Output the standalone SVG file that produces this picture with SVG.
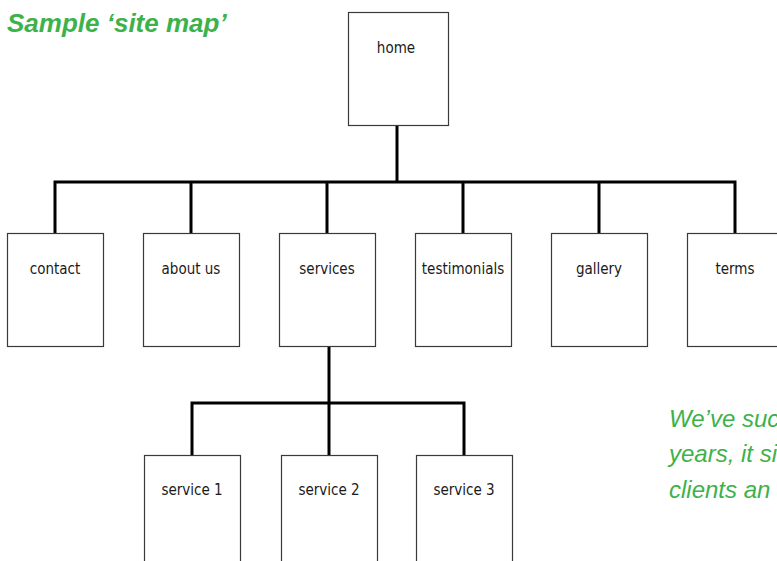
<svg xmlns="http://www.w3.org/2000/svg" width="777" height="561" viewBox="0 0 777 561">
  <style>
    .box { fill: #ffffff; stroke: #3a3a3a; stroke-width: 1.2; }
    .lbl { font-family: "DejaVu Sans Condensed", "Liberation Sans", sans-serif; font-size: 15px; fill: #1a1a1a; text-anchor: middle; }
    .link { fill: none; stroke: #000000; stroke-width: 3; stroke-linejoin: miter; }
    .title { font-family: "Liberation Sans", Arial, sans-serif; font-size: 26px; font-weight: bold; font-style: italic; fill: #3db24a; }
    .note { font-family: "Liberation Sans", Arial, sans-serif; font-size: 24px; font-style: italic; fill: #3db24a; }
  </style>
  <rect width="777" height="561" fill="#ffffff"/>

  <text class="title" x="7" y="32">Sample ‘site map’</text>

  <g id="connectors">
    <path class="link" d="M397 125 V182"/>
    <path class="link" d="M55 233 V182 H735 V233"/>
    <path class="link" d="M191 182 V233 M327 182 V233 M463 182 V233 M599 182 V233"/>
    <path class="link" d="M329 347 V403"/>
    <path class="link" d="M192 455 V403 H464 V455"/>
    <path class="link" d="M329 403 V455"/>
  </g>

  <g id="home"><rect class="box" x="348.5" y="12.5" width="100" height="113"/><text class="lbl" x="396" y="53">home</text></g>

  <g id="contact"><rect class="box" x="7.5" y="233.5" width="96" height="113"/><text class="lbl" x="55" y="274">contact</text></g>
  <g id="about-us"><rect class="box" x="143.5" y="233.5" width="96" height="113"/><text class="lbl" x="191" y="274">about us</text></g>
  <g id="services"><rect class="box" x="279.5" y="233.5" width="96" height="113"/><text class="lbl" x="327" y="274">services</text></g>
  <g id="testimonials"><rect class="box" x="415.5" y="233.5" width="96" height="113"/><text class="lbl" x="463" y="274">testimonials</text></g>
  <g id="gallery"><rect class="box" x="551.5" y="233.5" width="96" height="113"/><text class="lbl" x="599" y="274">gallery</text></g>
  <g id="terms"><rect class="box" x="687.5" y="233.5" width="96" height="113"/><text class="lbl" x="735" y="274">terms</text></g>

  <g id="service-1"><rect class="box" x="144.5" y="455.5" width="96" height="113"/><text class="lbl" x="192" y="495">service 1</text></g>
  <g id="service-2"><rect class="box" x="281.5" y="455.5" width="96" height="113"/><text class="lbl" x="329" y="495">service 2</text></g>
  <g id="service-3"><rect class="box" x="416.5" y="455.5" width="96" height="113"/><text class="lbl" x="464" y="495">service 3</text></g>

  <g id="note">
    <text class="note" x="669" y="427">We’ve suc</text>
    <text class="note" x="669" y="462">years, it si</text>
    <text class="note" x="669" y="498">clients an</text>
  </g>
</svg>
